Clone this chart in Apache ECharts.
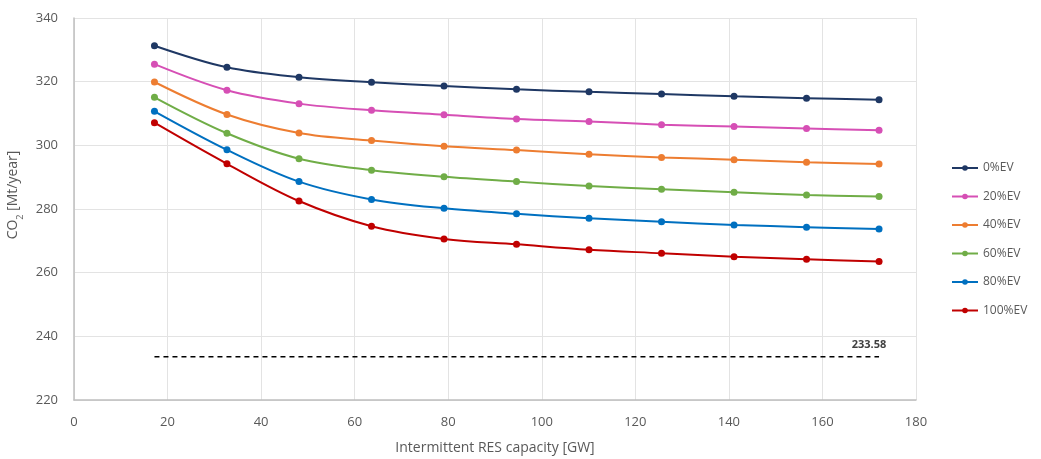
<!DOCTYPE html>
<html>
<head>
<meta charset="utf-8">
<script src="https://cdn.jsdelivr.net/npm/echarts@6/dist/echarts.min.js"></script>
<style>
  html, body { margin: 0; padding: 0; background: #fff; }
  #chart { width: 1041px; height: 459px; }
</style>
</head>
<body>
<div id="chart"></div>
<script>
// x positions of the points (GW)
const capacity = [17.2, 32.7, 48.1, 63.6, 79.1, 94.6, 110.1, 125.6, 141.1, 156.6, 172.1];

// CO2 emissions per EV share [Mt/year]
const ev0 = [331.3, 324.5, 321.4, 319.8, 318.6, 317.6, 316.8, 316.1, 315.4, 314.8, 314.3];
const ev20 = [325.5, 317.3, 313.1, 311.0, 309.6, 308.3, 307.5, 306.5, 305.9, 305.3, 304.7];
const ev40 = [319.9, 309.7, 303.9, 301.5, 299.7, 298.5, 297.2, 296.2, 295.5, 294.7, 294.1];
const ev60 = [315.1, 303.8, 295.8, 292.2, 290.1, 288.6, 287.2, 286.2, 285.3, 284.4, 283.9];
const ev80 = [310.7, 298.6, 288.6, 283.0, 280.2, 278.5, 277.1, 276.0, 275.0, 274.3, 273.7];
const ev100 = [307.1, 294.2, 282.5, 274.6, 270.6, 268.9, 267.2, 266.1, 265.0, 264.2, 263.5];

const seriesNames = ["0%EV", "20%EV", "40%EV", "60%EV", "80%EV", "100%EV"];
const seriesValues = [ev0, ev20, ev40, ev60, ev80, ev100];
const seriesColors = ["#1f3864", "#d64fb5", "#ed7d31", "#70ad47", "#0070c0", "#c00000"];

// reference level (dashed line)
const refValue = 233.58;
const refRange = [17.2, 172.1];

const xTicks = { min: 0, max: 180, interval: 20 };
const yTicks = { min: 220, max: 340, interval: 20 };

const textColor = "#595959";
const fontFamily = "'Open Sans', 'Liberation Sans', sans-serif";

const chart = echarts.init(document.getElementById("chart"));

const lineSeries = seriesNames.map((name, i) => ({
    name: name,
    type: "line",
    smooth: 0.35,
    symbol: "circle",
    symbolSize: 7,
    itemStyle: { color: seriesColors[i] },
    lineStyle: { width: 2, color: seriesColors[i] },
    data: capacity.map((x, j) => [x, seriesValues[i][j]]),
}));

// dashed reference line, label on its right end
const refSeries = {
    name: "ref",
    type: "line",
    symbol: "circle",
    symbolSize: 1,
    showSymbol: true,
    silent: true,
    itemStyle: { color: "rgba(0,0,0,0)" },
    lineStyle: { type: [5, 4], width: 1.5, color: "#000" },
    data: [
        [refRange[0], refValue],
        [refRange[1], refValue],
    ],
    label: {
        show: true,
        position: "top",
        offset: [-10, -1],
        fontFamily: fontFamily,
        fontSize: 11,
        fontWeight: "bold",
        color: "#404040",
        formatter: (p) => (p.dataIndex === 1 ? refValue.toFixed(2) : ""),
    },
};

const options = {
    animation: false,
    textStyle: { fontFamily: fontFamily },
    grid: {
        left: 74,
        right: 125,
        top: 18,
        bottom: 59,
        containLabel: false,
        outerBoundsMode: "none",
    },
    legend: {
        data: seriesNames,
        orient: "vertical",
        left: 946,
        top: 157,
        itemGap: 16.5,
        itemWidth: 26,
        itemHeight: 7,
        textStyle: { color: textColor, fontSize: 12, fontFamily: fontFamily },
    },
    xAxis: {
        type: "value",
        min: xTicks.min,
        max: xTicks.max,
        interval: xTicks.interval,
        name: "Intermittent RES capacity [GW]",
        nameLocation: "middle",
        nameGap: 41,
        nameTextStyle: { color: textColor, fontSize: 14 },
        axisLine: { show: true, lineStyle: { color: "#bfbfbf", width: 1.5 } },
        axisTick: { show: false },
        axisLabel: { color: textColor, fontSize: 13, margin: 16 },
        splitLine: { show: true, lineStyle: { color: "#e3e3e3" } },
    },
    yAxis: {
        type: "value",
        min: yTicks.min,
        max: yTicks.max,
        interval: yTicks.interval,
        name: "{a|CO}{b|2}{a| [Mt/year]}",
        nameLocation: "middle",
        nameGap: 35,
        nameTextStyle: {
            color: textColor,
            padding: [0, 0, 0, 28],
            rich: {
                a: { fontSize: 14, color: textColor, fontFamily: fontFamily, verticalAlign: "top", lineHeight: 16 },
                b: { fontSize: 9, color: textColor, fontFamily: fontFamily, verticalAlign: "bottom", lineHeight: 19 },
            },
        },
        axisLine: { show: true, lineStyle: { color: "#bfbfbf", width: 1.5 } },
        axisTick: { show: false },
        axisLabel: { color: textColor, fontSize: 13, margin: 16 },
        splitLine: { show: true, lineStyle: { color: "#e3e3e3" } },
    },
    series: lineSeries.concat([refSeries]),
};

chart.setOption(options);
</script>
</body>
</html>
